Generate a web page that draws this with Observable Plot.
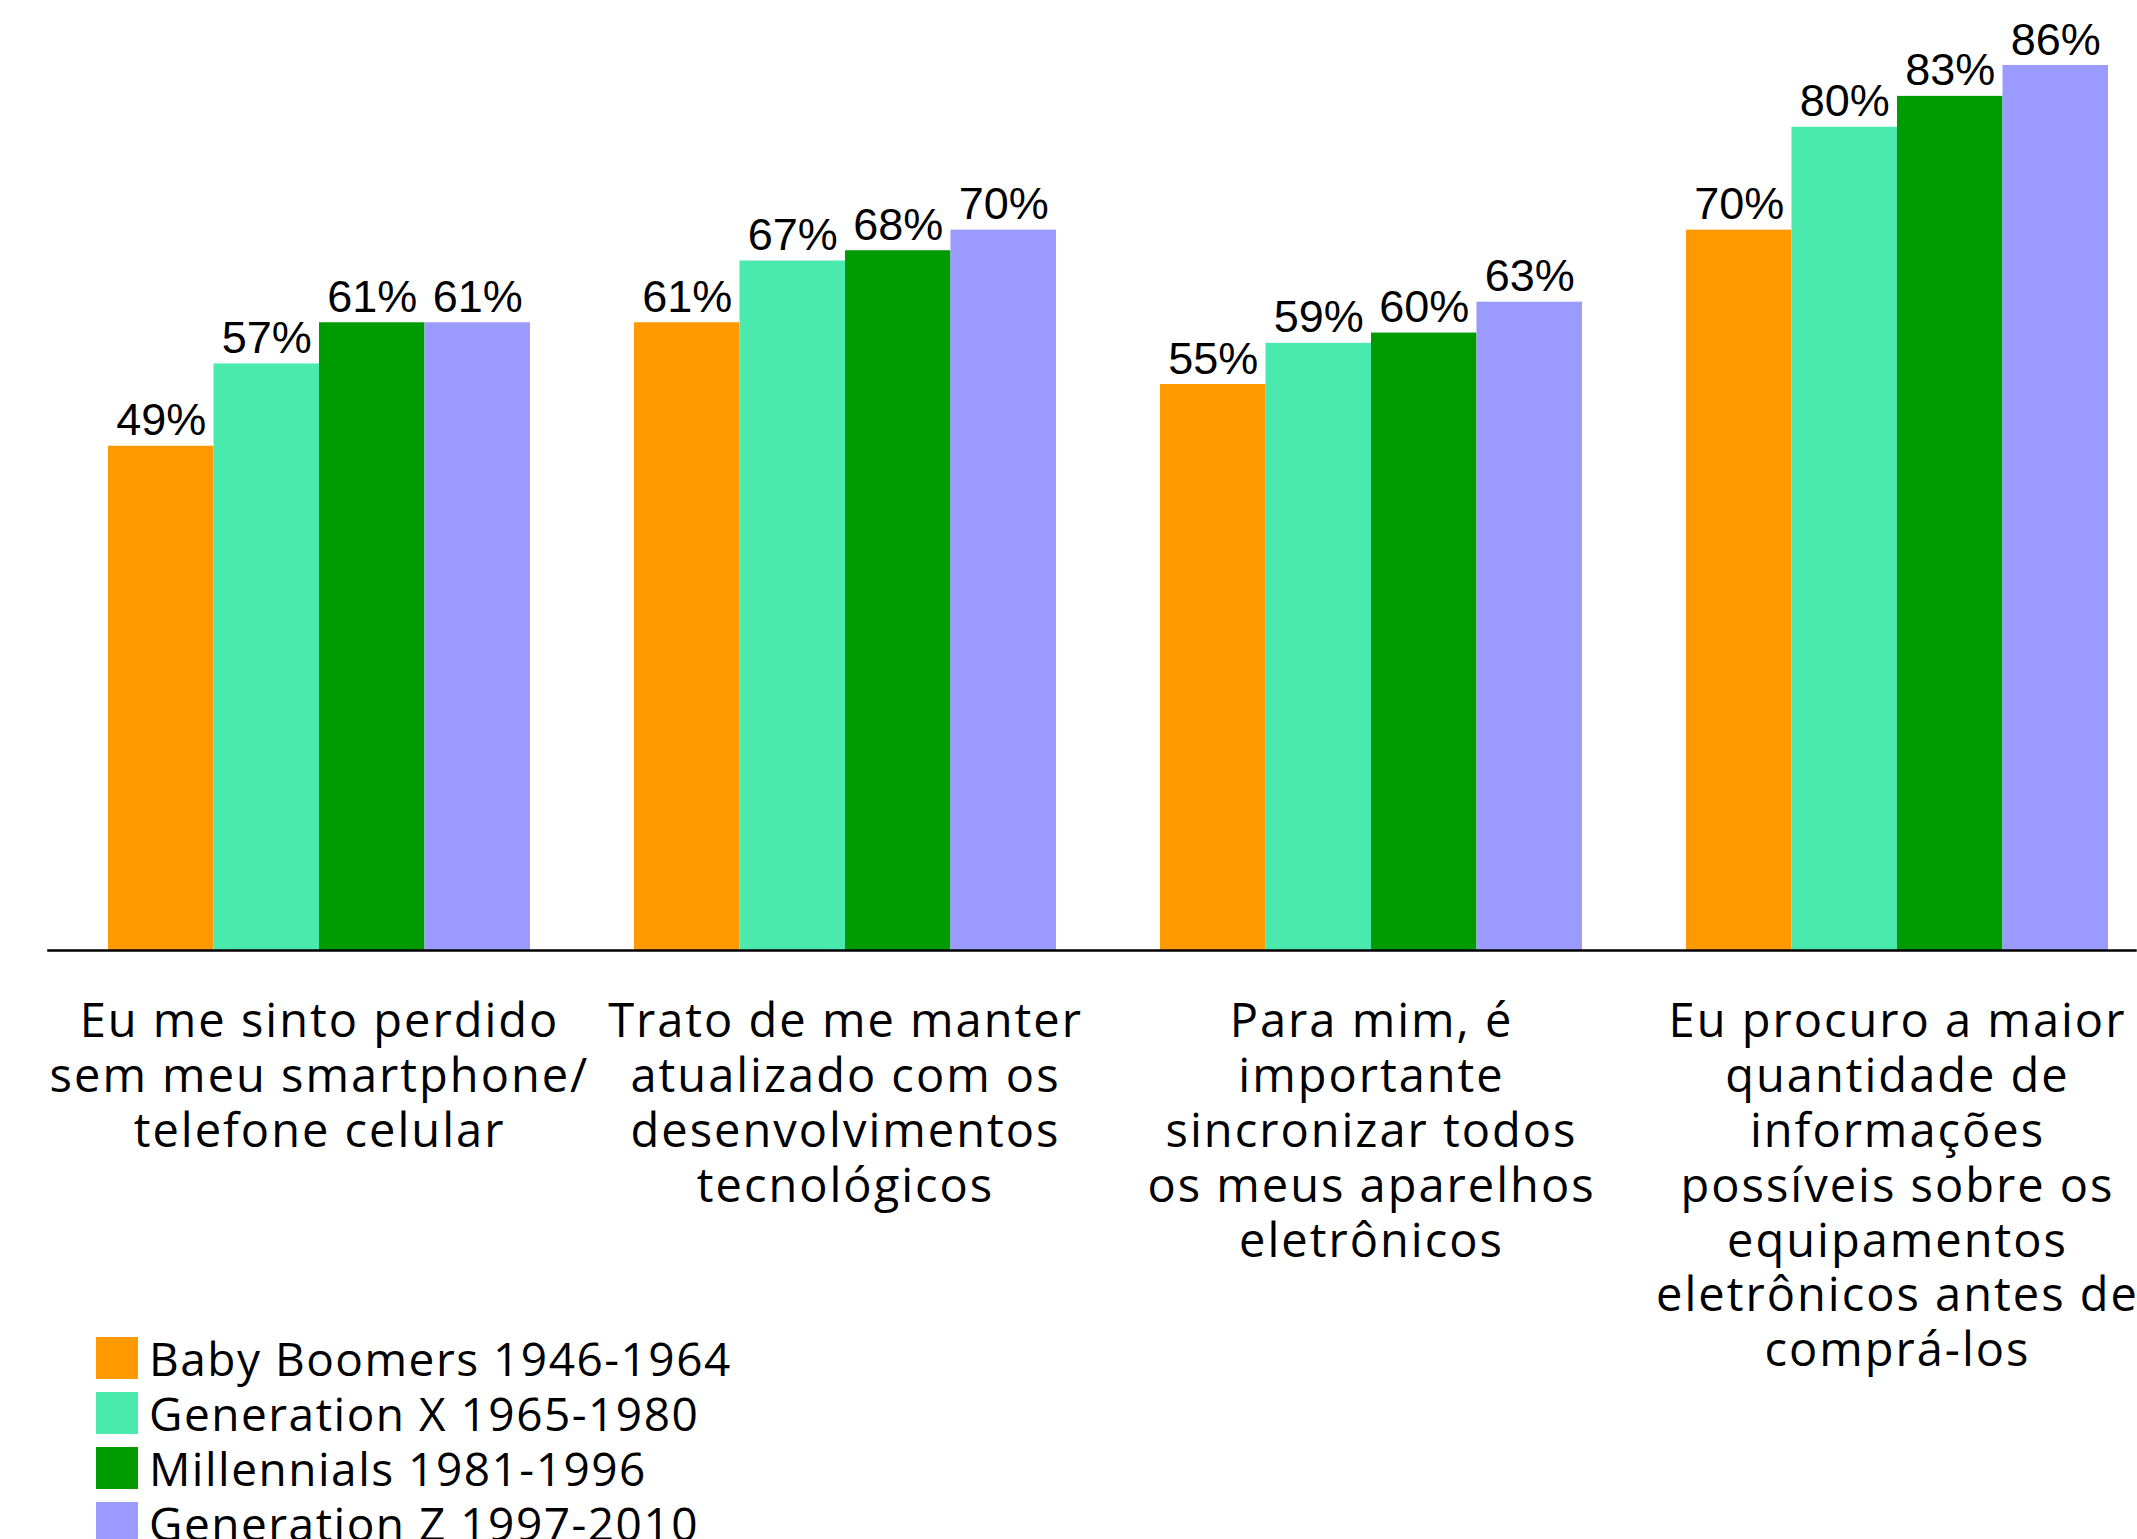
<!DOCTYPE html>
<html>
<head>
<meta charset="utf-8">
<script src="https://cdn.jsdelivr.net/npm/d3@7"></script>
<script src="https://cdn.jsdelivr.net/npm/@observablehq/plot@0.6"></script>
<style>
  html, body { margin: 0; padding: 0; background: #fff; }
  #chart svg { overflow: visible; }
  #chart g[aria-label="fx-axis tick label"] { letter-spacing: 2px; }
  .gen-swatches { margin: 0 0 0 96px !important; letter-spacing: 1.5px; }
  .gen-swatch { height: 55px; padding: 0 !important; }
  .gen-swatch > svg { margin-right: 11px !important; }
</style>
</head>
<body>
<div id="chart"></div>
<script>
// Survey statements (x-axis groups), one line per "\n"
const categories = [
  "Eu me sinto perdido\nsem meu smartphone/\ntelefone celular",
  "Trato de me manter\natualizado com os\ndesenvolvimentos\ntecnológicos",
  "Para mim, é\nimportante\nsincronizar todos\nos meus aparelhos\neletrônicos",
  "Eu procuro a maior\nquantidade de\ninformações\npossíveis sobre os\nequipamentos\neletrônicos antes de\ncomprá-los"
];

const generations = [
  "Baby Boomers 1946-1964",
  "Generation X 1965-1980",
  "Millennials 1981-1996",
  "Generation Z 1997-2010"
];

const generationColors = ["#ff9900", "#4aeaaf", "#009b00", "#9b9bff"];

// Share of respondents agreeing (%), in category order
const babyBoomers = [49, 61, 55, 70];
const generationX = [57, 67, 59, 80];
const millennials = [61, 68, 60, 83];
const generationZ = [61, 70, 63, 86];

const series = [babyBoomers, generationX, millennials, generationZ];
const rows = categories.flatMap((category, i) =>
  generations.map((generation, j) => ({category, generation, value: series[j][i]}))
);

const labelFont = "'Open Sans', sans-serif";

const chart = Plot.plot({
  width: 2137,
  height: 1330,
  marginLeft: 48,
  marginRight: 0,
  marginTop: 65,
  marginBottom: 380,
  style: {background: "white", overflow: "visible"},
  fx: {domain: categories, paddingInner: 0.1977, paddingOuter: 0.0846, align: 0.674, round: false, axis: null, label: null},
  x: {domain: generations, padding: 0, round: false, axis: null},
  y: {domain: [0, 86], axis: null},
  color: {domain: generations, range: generationColors},
  marks: [
    Plot.barY(rows, {fx: "category", x: "generation", y: "value", fill: "generation"}),
    Plot.text(rows, {
      fx: "category", x: "generation", y: "value",
      text: d => `${d.value}%`,
      dy: -11, lineAnchor: "bottom",
      fontSize: 45, fontFamily: "'Liberation Sans', Arial, sans-serif", fill: "#000"
    }),
    // baseline running across the whole chart, past the outer groups
    Plot.frame({anchor: "bottom", facet: "super", stroke: "#000", strokeWidth: 2.5, insetLeft: -60, insetRight: -27}),
    Plot.axisFx({
      anchor: "bottom", tickSize: 0, tickPadding: 47, label: null,
      fontSize: 47, lineHeight: 1.17, fontFamily: labelFont, fill: "#000"
    })
  ]
});

const legend = Plot.legend({
  color: {domain: generations, range: generationColors},
  legend: "swatches",
  columns: 1,
  swatchSize: 42,
  className: "gen",
  style: {fontFamily: labelFont, fontSize: "46px", color: "#000"}
});

const root = document.getElementById("chart");
root.append(chart, legend);
</script>
</body>
</html>
